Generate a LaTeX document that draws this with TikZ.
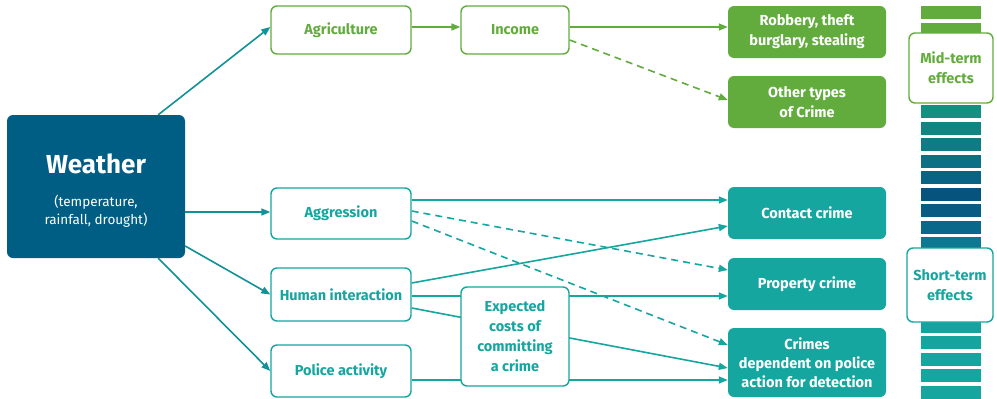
\documentclass[tikz,border=0pt]{standalone}
\usepackage{fontspec}
\setmainfont{Fira Sans}
\usetikzlibrary{arrows.meta}
\definecolor{cgreen}{RGB}{98,172,62}
\definecolor{cteal}{RGB}{22,166,160}
\definecolor{cblue}{RGB}{0,94,132}
\definecolor{wteal}{RGB}{16,146,152}
\begin{document}
\begin{tikzpicture}[x=1pt,y=-1pt,
  lbl/.style={font=\bfseries\fontsize{14.5}{20}\selectfont, align=center, inner sep=0pt},
  gbox/.style={lbl, draw=cgreen, line width=1.4pt, rounded corners=6pt, fill=white, text=cgreen},
  tbox/.style={gbox, draw=cteal, text=cteal},
  gfill/.style={lbl, fill=cgreen, rounded corners=6pt, text=white},
  tfill/.style={gfill, fill=cteal},
  arr/.style={line width=1.6pt, -{Triangle[length=9pt,width=7pt]}},
  dsh/.style={arr, dash pattern=on 7pt off 5pt},
]
\useasboundingbox[fill=white] (0,0) rectangle (997,399);

% right bar
\foreach \k/\r/\g/\b in {0/98/172/62,1/98/172/62,2/70/165/85,3/50/158/100,4/35/152/115,5/25/148/125,
  6/20/143/128,7/16/134/130,8/13/124/133,9/11/112/134,10/9/99/133,11/6/84/126,12/8/92/132,
  13/10/104/138,14/13/120/145,15/16/136/150,16/18/146/153,17/20/152/155,18/21/158/157,
  19/22/162/158,20/22/164/159,21/22/165/159,22/22/166/160,23/22/166/160}{
  \definecolor{stripe}{RGB}{\r,\g,\b}
  \fill[stripe] (921,{6+\k*16.5}) rectangle (981,{19+\k*16.5});
}
\node[gbox, minimum width=84pt, minimum height=70pt] (mid) at (951,68) {Mid-term\\effects};
\node[tbox, minimum width=86pt, minimum height=74pt] (short) at (950,285) {Short-term\\effects};

% nodes
\node[fill=cblue, rounded corners=6pt, minimum width=178pt, minimum height=143pt, text=white, align=center, inner sep=0pt,
  font=\fontsize{13.5}{18}\selectfont] (weather) at (96,186.5)
  {{\fontsize{26}{30}\selectfont\bfseries\rule{0pt}{27pt}Weather}\\[15pt](temperature,\\rainfall, drought)};
\node[gbox, minimum width=140pt, minimum height=48pt] (agr) at (341,30) {Agriculture};
\node[gbox, minimum width=108pt, minimum height=48pt] (inc) at (515,30) {Income};
\node[gfill, minimum width=158pt, minimum height=52pt] (rob) at (807,32) {Robbery, theft\\burglary, stealing};
\node[gfill, minimum width=158pt, minimum height=52pt] (oth) at (807,102) {Other types\\of Crime};
\node[tbox, minimum width=140pt, minimum height=51pt] (agg) at (341,213.5) {Aggression};
\node[tbox, minimum width=140pt, minimum height=53pt] (hum) at (341,294.5) {Human interaction};
\node[tbox, minimum width=140pt, minimum height=52pt] (pol) at (341,371) {Police activity};
\node[tfill, minimum width=158pt, minimum height=52pt] (con) at (807,213) {Contact crime};
\node[tfill, minimum width=158pt, minimum height=52pt] (prop) at (807,284) {Property crime};
\node[tfill, minimum width=158pt, minimum height=69pt, font=\bfseries\fontsize{14.5}{19}\selectfont] (dep) at (807,362.5) {Crimes\\dependent on police\\action for detection};

% connectors from weather
\draw[arr, wteal] ([xshift=-27pt]weather.north east) -- ([yshift=3pt]agr.west);
\draw[arr, wteal] ([yshift=1.5pt]weather.east |- agg.west) -- ([yshift=1.5pt]agg.west);
\draw[arr, wteal] ([yshift=-59.5pt]weather.east) -- (hum.west);
\draw[arr, wteal] ([xshift=-27pt]weather.south east) -- (pol.west);

% green connectors
\draw[arr, cgreen] ([yshift=3pt]agr.east) -- ([yshift=3pt]inc.west);
\draw[arr, cgreen] ([yshift=3pt]inc.east) -- ([yshift=3pt]inc.east -| rob.west);
\draw[dsh, cgreen] ([yshift=-10pt]inc.east) -- ([yshift=2pt]oth.west);

% teal connectors
\draw[arr, cteal] ([yshift=13.5pt]agg.east) -- ([yshift=13.5pt]agg.east -| con.west);
\draw[dsh, cteal] ([yshift=2.5pt]agg.east) -- ([yshift=14pt]prop.west);
\draw[dsh, cteal] ([yshift=-7.5pt]agg.east) -- ([yshift=17.5pt]dep.west);
\draw[arr, cteal] ([yshift=11.5pt]hum.east) -- ([yshift=-13pt]con.west);
\draw[arr, cteal] ([yshift=-1.5pt]hum.east) -- ([yshift=-1.5pt]hum.east -| prop.west);
\draw[arr, cteal] ([yshift=-13.5pt]hum.east) -- ([yshift=-5.5pt]dep.west);
\draw[arr, cteal] ([yshift=-9pt]pol.east) -- ([yshift=-9pt]pol.east -| dep.west);

% box drawn over the lines
\node[tbox, minimum width=108pt, minimum height=99pt, font=\bfseries\fontsize{14.5}{20}\selectfont] (exp) at (515,336.5) {Expected\\costs of\\committing\\a crime};
\end{tikzpicture}
\end{document}
